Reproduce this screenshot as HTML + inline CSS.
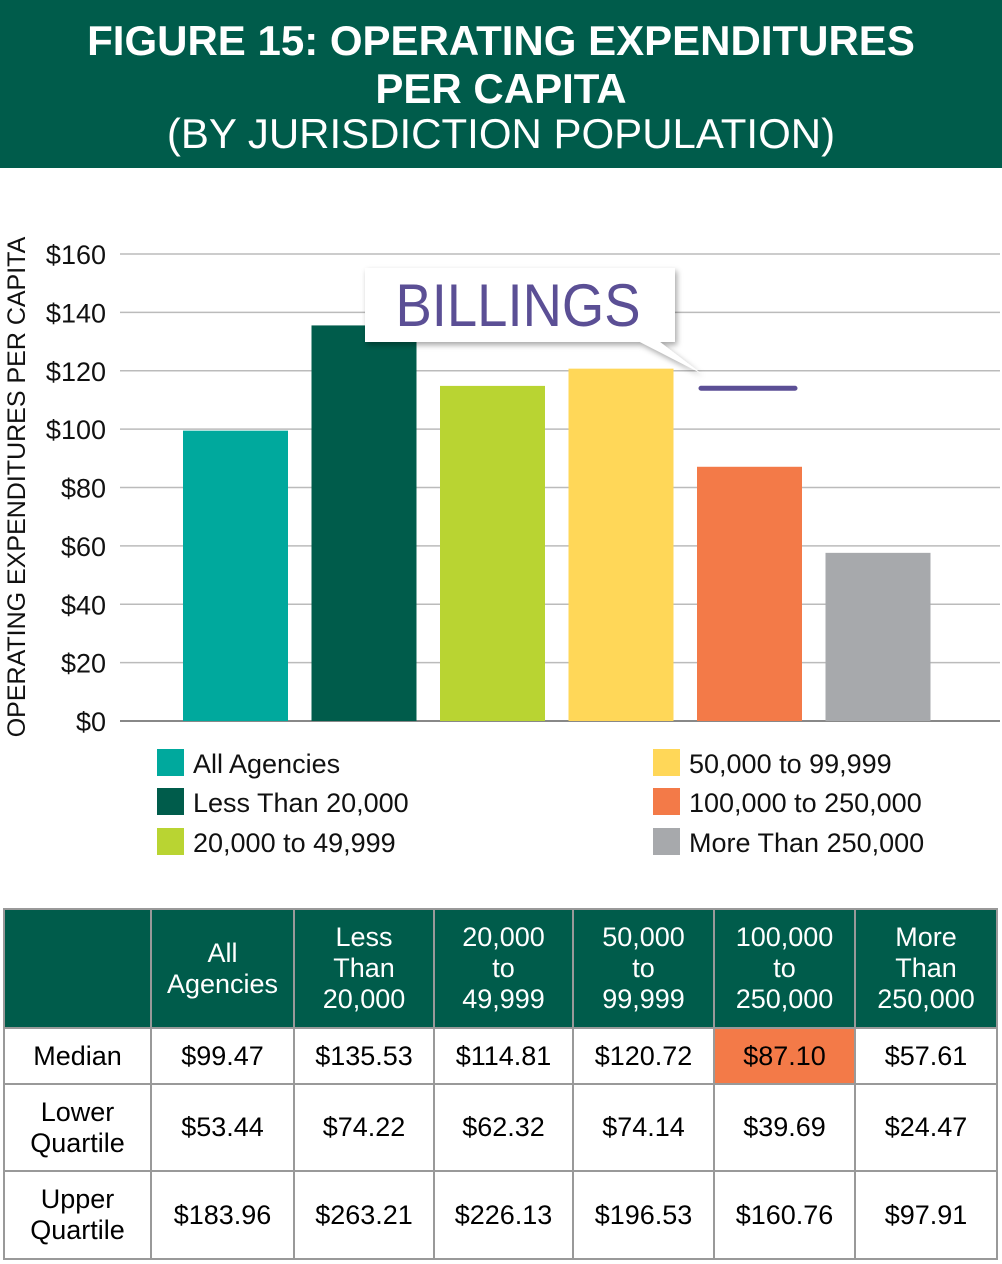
<!DOCTYPE html>
<html><head><meta charset="utf-8"><style>
body{margin:0;width:1002px;height:1264px;background:#fff;font-family:"Liberation Sans",sans-serif;position:relative;overflow:hidden}
#hdr{position:absolute;left:0;top:0;width:1002px;height:168px;background:#005c4b;color:#fff;text-align:center}
.t1{position:absolute;left:0;width:1002px;font-weight:bold;font-size:42px;letter-spacing:0px}
.t2{position:absolute;left:0;width:1002px;font-size:42px}
table{position:absolute;left:3px;top:908px;border-collapse:collapse;font-size:27px}
td{border:2px solid #999;text-align:center;padding:0;line-height:31px}
th{background:#005c4b;color:#fff;font-weight:normal;border:2px solid #999;line-height:31px;font-size:27px}
</style></head><body>
<div id="hdr">
<div class="t1" style="top:17px">FIGURE 15: OPERATING EXPENDITURES</div>
<div class="t1" style="top:65px">PER CAPITA</div>
<div class="t2" style="top:110px">(BY JURISDICTION POPULATION)</div>
</div>
<svg id="chart" width="1002" height="880" style="position:absolute;left:0;top:0"></svg>
<table>
<tr style="height:119px"><th style="width:143px"></th><th style="width:139px">All<br>Agencies</th><th style="width:136px">Less<br>Than<br>20,000</th><th style="width:135px">20,000<br>to<br>49,999</th><th style="width:137px">50,000<br>to<br>99,999</th><th style="width:137px">100,000<br>to<br>250,000</th><th style="width:138px">More<br>Than<br>250,000</th></tr>
<tr style="height:56px"><td>Median</td><td>$99.47</td><td>$135.53</td><td>$114.81</td><td>$120.72</td><td style="background:#f37a48">$87.10</td><td>$57.61</td></tr>
<tr style="height:87px"><td>Lower<br>Quartile</td><td>$53.44</td><td>$74.22</td><td>$62.32</td><td>$74.14</td><td>$39.69</td><td>$24.47</td></tr>
<tr style="height:88px"><td>Upper<br>Quartile</td><td>$183.96</td><td>$263.21</td><td>$226.13</td><td>$196.53</td><td>$160.76</td><td>$97.91</td></tr>
</table>
<script>
const categories=["All Agencies","Less Than 20,000","20,000 to 49,999","50,000 to 99,999","100,000 to 250,000","More Than 250,000"];
const values=[99.47,135.53,114.81,120.72,87.10,57.61];
const colors=["#00a99d","#005c4b","#b9d432","#ffd758","#f37a48","#a7a9ac"];
const ticks=[0,20,40,60,80,100,120,140,160];
const billings=[114];
const NS="http://www.w3.org/2000/svg";
const svg=document.getElementById('chart');
const y=v=>721-v*(467/160);
const x=i=>183+i*128.5;
function mk(t,a){const e=document.createElementNS(NS,t);for(const k in a)e.setAttribute(k,a[k]);svg.appendChild(e);return e;}
ticks.forEach(t=>{
 const l=mk('line',{x1:120,x2:1000,y1:y(t),y2:y(t),stroke:t===0?'#888':'#bbb','stroke-width':t===0?2:1.5});
 
 
 const tx=mk('text',{x:106,y:y(t)+10,'text-anchor':'end','font-size':27,fill:'#111'});
 tx.textContent='$'+t;
 
 
});
const yt=mk('text',{x:0,y:0,transform:'translate(25,487) rotate(-90)','text-anchor':'middle','font-size':25,fill:'#111'});
yt.textContent='OPERATING EXPENDITURES PER CAPITA';


values.forEach((v,i)=>{
 const r=mk('rect',{x:x(i),y:y(v),width:105,height:721-y(v),fill:colors[i]});
 
 
});
const f=mk('filter',{id:'sh',x:'-10%',y:'-10%',width:'130%',height:'140%'});
f.innerHTML='<feDropShadow dx="2" dy="3" stdDeviation="3" flood-opacity="0.35"/>';
const cb=mk('path',{d:`M365 268 H675 V342 H660 L${x(4)+4} ${y(billings[0])-15} L640 342 H365 Z`,fill:'#fff',filter:'url(#sh)'});


const bt=mk('text',{x:518,y:326,'text-anchor':'middle','font-size':60,fill:'#5b4f95',textLength:245,lengthAdjust:'spacingAndGlyphs'});
bt.textContent='BILLINGS';


const bl=mk('line',{x1:x(4)+4,x2:x(4)+98,y1:y(billings[0]),y2:y(billings[0]),stroke:'#5b4f95','stroke-width':5,'stroke-linecap':'round'});


const pos=[[157,749],[157,788],[157,828],[653,749],[653,788],[653,828]];
categories.forEach((c,i)=>{
 const r=mk('rect',{x:pos[i][0],y:pos[i][1],width:27,height:27,fill:colors[i]});
 
 
 const t=mk('text',{x:pos[i][0]+36,y:pos[i][1]+24,'font-size':27,fill:'#111'});
 t.textContent=c;
 
 
});
</script>
</body></html>
